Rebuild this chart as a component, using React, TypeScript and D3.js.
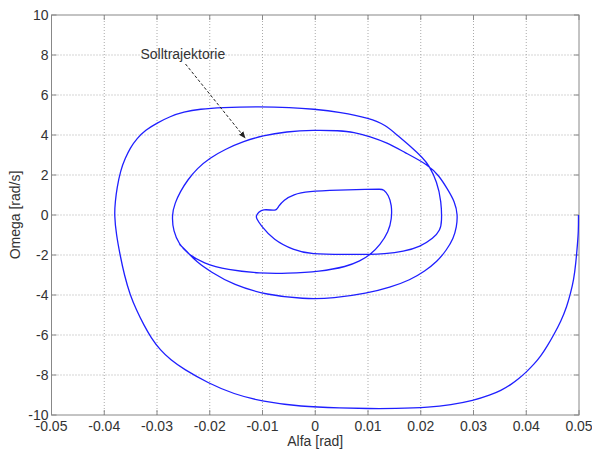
import React from "react";
import * as d3 from "d3";

const xTicks = [-0.05, -0.04, -0.03, -0.02, -0.01, 0, 0.01, 0.02, 0.03, 0.04, 0.05];
const xTickLabels = ["-0.05", "-0.04", "-0.03", "-0.02", "-0.01", "0", "0.01", "0.02", "0.03", "0.04", "0.05"];
const yTicks = [-10, -8, -6, -4, -2, 0, 2, 4, 6, 8, 10];
const yTickLabels = ["-10", "-8", "-6", "-4", "-2", "0", "2", "4", "6", "8", "10"];

// trajectory (alpha [rad], omega [rad/s])
const alfa = [
  // outer loop: right side down, bottom, left side up
  0.0499, 0.0499, 0.0497, 0.0494, 0.049, 0.0484, 0.0477, 0.0466, 0.0452, 0.044, 0.0427, 0.0414, 0.0401, 0.0386, 0.037,
  0.0352, 0.0332, 0.030, 0.0256, 0.0218, 0.015, 0.0101, 0.005, -0.0028, -0.01, -0.0155, -0.0202, -0.025, -0.0274,
  -0.0294, -0.0311, -0.0325, -0.0339, -0.0351, -0.0362, -0.037, -0.0377, -0.0381,
  // outer top
  -0.0379, -0.0376, -0.0369, -0.036, -0.0351, -0.0338, -0.0322, -0.03, -0.0275, -0.025, -0.0218, -0.018, -0.0104,
  -0.0047, -0.0004, 0.0047, 0.0104, 0.0133, 0.0155, 0.018, 0.0205, 0.0215, 0.0231, 0.0239, 0.024, 0.0237, 0.0224,
  0.0199, 0.0168, 0.0129,
  // line back at about -2
  0.0104, 0.006, -0.0009, -0.0041, -0.0079, -0.0104, -0.0112, -0.0112,
  // inner bump and top
  -0.0107, -0.0098, -0.0085, -0.0074, -0.007, -0.006, -0.0041, -0.0016, 0.0047, 0.0098, 0.0125, 0.0129,
  // inner right side and lower curve
  0.0139, 0.0145, 0.0145, 0.0139, 0.0123, 0.0104, 0.0085, 0.006, 0.0009, -0.0054, -0.0104, -0.0167, -0.0212, -0.0243,
  -0.0258,
  // reference ellipse
  -0.0269, -0.0272, -0.0266, -0.0256, -0.0242, -0.0224, -0.02, -0.017, -0.0136, -0.01, -0.0055, -0.0003, 0.0045,
  0.0073, 0.0104, 0.0136, 0.0168, 0.0215, 0.0235, 0.025, 0.0265, 0.027, 0.0268, 0.0262, 0.0249, 0.0231, 0.0208,
  0.018, 0.0142, 0.0098, 0.0035, -0.0022, -0.0092, -0.0155, -0.0199, -0.0225, -0.0243, -0.0258,
];
const omega = [
  0.0, -0.8, -1.5, -2.4, -3.25, -3.9, -4.58, -5.3, -6.0, -6.55, -7.08, -7.48, -7.83, -8.18, -8.5,
  -8.78, -9.0, -9.28, -9.5, -9.62, -9.68, -9.68, -9.65, -9.58, -9.33, -8.95, -8.42, -7.7, -7.25,
  -6.75, -6.15, -5.5, -4.75, -4.0, -3.0, -2.0, -1.0, 0.0,
  0.7, 1.33, 2.25, 2.85, 3.35, 3.83, 4.25, 4.6, 4.93, 5.15, 5.3, 5.38, 5.42,
  5.38, 5.3, 5.15, 4.83, 4.5, 4.0, 3.45, 2.83, 2.5, 1.67, 0.67, -0.33, -0.75, -1.17,
  -1.58, -1.83, -1.95,
  -1.97, -1.97, -1.97, -1.75, -1.25, -0.5, -0.15, -0.05,
  0.17, 0.28, 0.25, 0.22, 0.42, 0.75, 1.03, 1.18, 1.25, 1.28, 1.29, 1.28,
  1.0, 0.5, -0.2, -0.83, -1.5, -2.0, -2.3, -2.58, -2.83, -2.92, -2.92, -2.75, -2.42, -1.92,
  -1.45,
  -0.83, 0.0, 0.6, 1.17, 1.75, 2.33, 2.85, 3.3, 3.68, 3.97, 4.17, 4.25, 4.22,
  4.15, 3.92, 3.62, 3.15, 2.5, 1.95, 1.33, 0.65, 0.0, -0.6, -1.17, -1.75, -2.33, -2.8,
  -3.25, -3.62, -3.92, -4.17, -4.2, -4.0, -3.5, -2.83, -2.35, -1.83, -1.45,
];

const annotationText = "Solltrajektorie";
const annotationPos = [-0.0251, 8.05];
const arrowFrom = [-0.0246, 7.55];
const arrowTo = [-0.0133, 3.85];

const W = 592;
const H = 450;
const left = 51.5;
const right = 579;
const top = 15;
const bottom = 415;
const font = "Arial, 'Liberation Sans', sans-serif";
const textColor = "#333";

export default function App() {
  const x = d3.scaleLinear().domain([-0.05, 0.05]).range([left, right]);
  const y = d3.scaleLinear().domain([-10, 10]).range([bottom, top]);
  const pts: [number, number][] = alfa.map((a, i) => [a, omega[i]]);
  const line = d3
    .line<[number, number]>()
    .x((d) => x(d[0]))
    .y((d) => y(d[1]))
    .curve(d3.curveBasis);

  return (
    <svg width={W} height={H} style={{ position: "absolute", left: 0, top: 0, background: "#fff" }}>
      <defs>
        <marker id="arr" viewBox="0 0 10 10" refX="9" refY="5" markerWidth="7" markerHeight="7" orient="auto">
          <path d="M0,1 L10,5 L0,9 z" fill="#222" />
        </marker>
      </defs>
      <rect x={0} y={0} width={W} height={H} fill="#fff" />
      {xTicks.slice(1, -1).map((t) => (
        <line key={"gx" + t} x1={x(t)} x2={x(t)} y1={top} y2={bottom} stroke="#aaa" strokeWidth={1} strokeDasharray="1,2" />
      ))}
      {yTicks.slice(1, -1).map((t) => (
        <line key={"gy" + t} x1={left} x2={right} y1={y(t)} y2={y(t)} stroke="#aaa" strokeWidth={1} strokeDasharray="1,2" />
      ))}
      <rect x={left} y={top} width={right - left} height={bottom - top} fill="none" stroke="#888" strokeWidth={1} />
      {xTicks.map((t) => (
        <g key={"tx" + t}>
          <line x1={x(t)} x2={x(t)} y1={bottom} y2={bottom - 5} stroke="#888" />
          <line x1={x(t)} x2={x(t)} y1={top} y2={top + 5} stroke="#888" />
        </g>
      ))}
      {yTicks.map((t) => (
        <g key={"ty" + t}>
          <line x1={left} x2={left + 5} y1={y(t)} y2={y(t)} stroke="#888" />
          <line x1={right} x2={right - 5} y1={y(t)} y2={y(t)} stroke="#888" />
        </g>
      ))}
      {xTicks.map((t, i) => (
        <text key={"lx" + t} x={x(t)} y={bottom + 16} textAnchor="middle" fontFamily={font} fontSize={14} fill={textColor}>
          {xTickLabels[i]}
        </text>
      ))}
      {yTicks.map((t, i) => (
        <text key={"ly" + t} x={left - 3} y={y(t) + 5} textAnchor="end" fontFamily={font} fontSize={14} fill={textColor}>
          {yTickLabels[i]}
        </text>
      ))}
      <text x={(left + right) / 2} y={bottom + 31} textAnchor="middle" fontFamily={font} fontSize={14} fill={textColor}>
        Alfa [rad]
      </text>
      <text
        transform={`translate(${20},${(top + bottom) / 2}) rotate(-90)`}
        textAnchor="middle"
        fontFamily={font}
        fontSize={14}
        fill={textColor}
      >
        Omega [rad/s]
      </text>
      <path d={line(pts) || ""} fill="none" stroke="#1f1fff" strokeWidth={1.3} />
      <line
        x1={x(arrowFrom[0])}
        y1={y(arrowFrom[1])}
        x2={x(arrowTo[0])}
        y2={y(arrowTo[1])}
        stroke="#222"
        strokeWidth={1}
        strokeDasharray="3,2"
        markerEnd="url(#arr)"
      />
      <text x={x(annotationPos[0])} y={y(annotationPos[1]) + 5} textAnchor="middle" fontFamily={font} fontSize={14} fill={textColor}>
        {annotationText}
      </text>
    </svg>
  );
}
